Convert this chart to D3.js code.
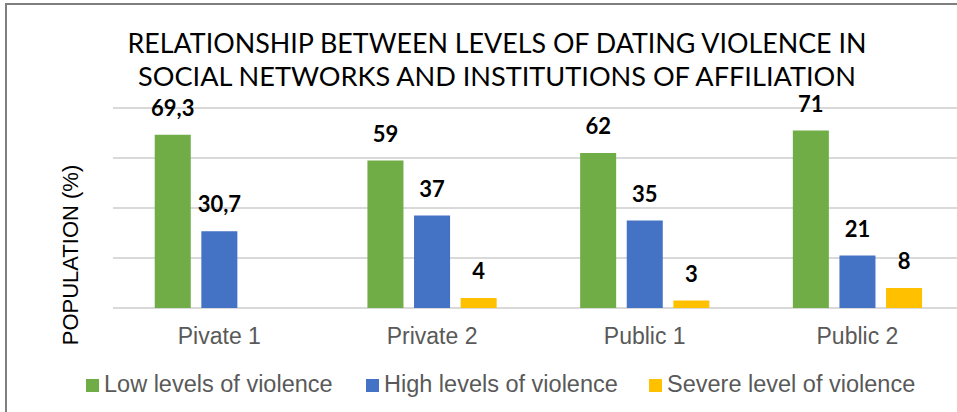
<!DOCTYPE html>
<html><head><meta charset="utf-8">
<script src="https://cdn.jsdelivr.net/npm/d3@7"></script>
<style>html,body{margin:0;padding:0;background:#fff;overflow:hidden}</style>
</head><body>
<svg id="c" width="957" height="412"></svg>
<script>
const categories = ["Pivate 1", "Private 2", "Public 1", "Public 2"];
const seriesNames = ["Low levels of violence", "High levels of violence", "Severe level of violence"];
const lowValues = [69.3, 59, 62, 71];
const highValues = [30.7, 37, 35, 21];
const severeValues = [null, 4, 3, 8];
const yTicks = [0, 20, 40, 60, 80];
const titleLines = ["RELATIONSHIP BETWEEN LEVELS OF DATING VIOLENCE IN", "SOCIAL NETWORKS AND INSTITUTIONS OF AFFILIATION"];
const yTitle = "POPULATION (%)";
const colors = ["#70AD47", "#4472C4", "#FFC000"];

const seriesValues = [lowValues, highValues, severeValues];
const svg = d3.select("#c");

// border
svg.append("rect").attr("x", 6).attr("y", 4).attr("width", 1000).attr("height", 500)
  .attr("fill", "none").attr("stroke", "#7f7f7f").attr("stroke-width", 2);

const plotLeft = 113, plotRight = 963.8;
const y = d3.scaleLinear().domain([0, 80]).range([308, 108]);
const x0 = d3.scaleBand().domain(categories).range([plotLeft, plotRight]).padding(0);
const x1 = d3.scaleBand().domain(seriesNames).range([-69.9, 69.9]).paddingInner(0.227).paddingOuter(0.1135);

// gridlines
svg.append("g").selectAll("line").data(yTicks).join("line")
  .attr("x1", plotLeft).attr("x2", 957)
  .attr("y1", d => y(d)).attr("y2", d => y(d))
  .attr("stroke", "#d9d9d9").attr("stroke-width", 2);

// bars
const fmt = v => String(v).replace(".", ",");
const groups = svg.append("g").selectAll("g").data(categories).join("g")
  .attr("transform", c => `translate(${x0(c) + x0.bandwidth() / 2},0)`);
const barData = (c, i) => seriesNames.map((s, k) => ({ s, k, v: seriesValues[k][i] })).filter(d => d.v != null);
groups.each(function (c, i) {
  const g = d3.select(this);
  const data = barData(c, i);
  g.selectAll("rect").data(data).join("rect")
    .attr("x", d => x1(d.s)).attr("width", x1.bandwidth())
    .attr("y", d => y(d.v)).attr("height", d => y(0) - y(d.v))
    .attr("fill", d => colors[d.k]);
  g.selectAll("text").data(data).join("text")
    .attr("x", d => x1(d.s) + x1.bandwidth() / 2)
    .attr("y", d => y(d.v) - 19)
    .attr("text-anchor", "middle")
    .attr("font-family", "Lato, 'Open Sans', sans-serif").attr("font-weight", "bold")
    .attr("font-size", 22).attr("fill", "#000")
    .text(d => fmt(d.v));
});

// category labels
svg.append("g").selectAll("text").data(categories).join("text")
  .attr("x", c => x0(c) + x0.bandwidth() / 2).attr("y", 344)
  .attr("text-anchor", "middle")
  .attr("font-family", "'Liberation Sans', Arial, sans-serif").attr("font-size", 23)
  .attr("fill", "#595959").text(c => c);

// y title
svg.append("text").attr("transform", "translate(78,255) rotate(-90)")
  .attr("text-anchor", "middle")
  .attr("font-family", "'Liberation Sans', Arial, sans-serif").attr("font-size", 22)
  .attr("fill", "#000").text(yTitle);

// title
const titleBase = [53, 86];
const titleWidths = [739, 718];
const titleCx = [497, 497];
titleLines.forEach((t, i) => {
  const el = svg.append("text").attr("x", titleCx[i]).attr("y", titleBase[i])
    .attr("text-anchor", "middle")
    .attr("font-family", "Lato, 'Open Sans', sans-serif").attr("font-size", 30)
    .attr("fill", "#000").text(t);
  const w = el.node().getComputedTextLength();
  el.attr("font-size", 30 * titleWidths[i] / w);
});

// legend
const legendX = [86, 366, 649];
const lg = svg.append("g").selectAll("g").data(seriesNames).join("g")
  .attr("transform", (d, i) => `translate(${legendX[i]},0)`);
lg.append("rect").attr("x", 0).attr("y", 379).attr("width", 13).attr("height", 13)
  .attr("fill", (d, i) => colors[i]);
lg.append("text").attr("x", 18).attr("y", 392)
  .attr("font-family", "'Liberation Sans', Arial, sans-serif").attr("font-size", 23.5)
  .attr("fill", "#595959").text(d => d);
</script>
</body></html>
